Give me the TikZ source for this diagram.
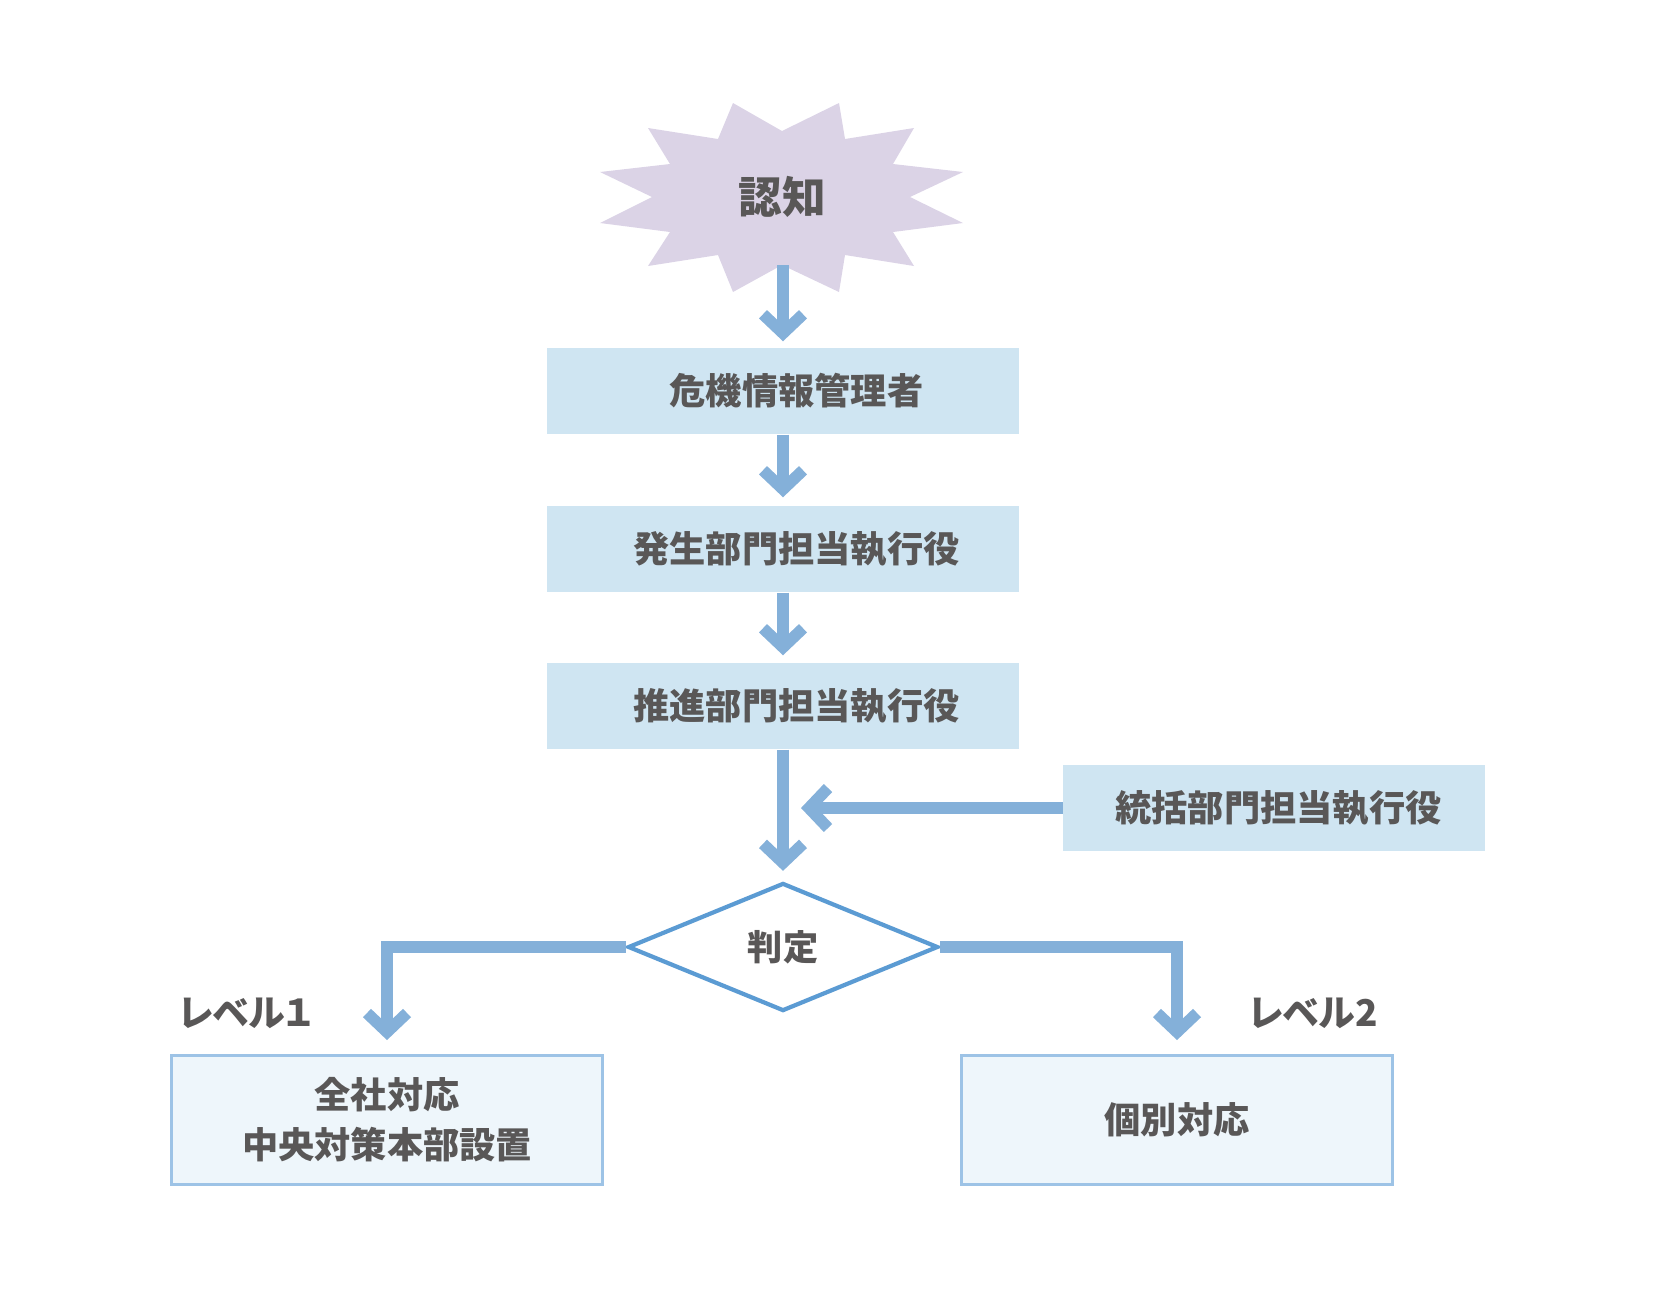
\documentclass[tikz,border=0pt]{standalone}
\usepackage{fontspec}
\setmainfont{Noto Sans CJK JP}
\newfontfamily\kanafont[RawFeature=+palt]{Noto Sans CJK JP}
\usepackage{xcolor}
\usepackage{tikz}
\usetikzlibrary{shapes.geometric, arrows.meta, positioning}

\definecolor{starlilac}{HTML}{DBD3E6}
\definecolor{boxblue}{HTML}{CFE5F2}
\definecolor{paleblue}{HTML}{EEF6FB}
\definecolor{edgeblue}{HTML}{9DC3E6}
\definecolor{flowblue}{HTML}{84B0D9}
\definecolor{diamblue}{HTML}{5B9BD3}
\definecolor{inkgray}{HTML}{595757}

\begin{document}
\begin{tikzpicture}[x=0.01cm,y=-0.01cm,
  every node/.style={text=inkgray, font=\bfseries\fontsize{10.3}{14.2}\selectfont},
  rolebox/.style={fill=boxblue, minimum width=4.71cm, minimum height=0.86cm, inner sep=0pt},
  outbox/.style={fill=paleblue, draw=edgeblue, line width=0.8pt, minimum width=4.30cm, minimum height=1.29cm, align=center, inner sep=0pt},
  levellabel/.style={font=\kanafont\bfseries\fontsize{10.5}{12}\selectfont},
  flowarrow/.style={draw=flowblue, line width=3.3pt, -{Straight Barb[length=0.19cm, width=0.40cm]}}]
  \useasboundingbox (0,0) rectangle (1654,1299);

  % --- TRIGGER: starburst ---
  \fill[starlilac] (782,131) -- (839,103) -- (845,139) -- (914,128) -- (893,164) -- (963,172)
    -- (910,197) -- (963,223) -- (893,232) -- (914,266) -- (845,255) -- (839,292)
    -- (782,265) -- (733,292) -- (718,255) -- (648,266) -- (670,232) -- (600,223)
    -- (652,197) -- (600,172) -- (670,164) -- (648,128) -- (718,139) -- (733,103) -- cycle;
  \node[font=\bfseries\fontsize{12.4}{14}\selectfont] (alert) at (782,197) {認知};
  \coordinate (alertfoot) at (783,265);

  % --- REPORTING CHAIN ---
  \node[rolebox] (mgr)   at (783,391) {\hspace*{0.27cm}危機情報管理者};
  \node[rolebox] (dept)  at (783,549) {\hspace*{0.27cm}発生部門担当執行役};
  \node[rolebox] (promo) at (783,706) {\hspace*{0.27cm}推進部門担当執行役};
  \node[rolebox, minimum width=4.21cm, minimum height=0.85cm] (ctrl) at (1274,808) {\hspace*{0.09cm}統括部門担当執行役};

  % --- DECISION ---
  \node[diamond, fill=white, draw=diamblue, line width=1.2pt, aspect=2.42,
        minimum width=3.1cm, minimum height=1.28cm, inner sep=0pt,
        font=\bfseries\fontsize{10}{12}\selectfont] (judge) at (783,947) {判定};

  % --- RESPONSES ---
  \node[outbox] (lvone) at (387,1120) {全社対応\\中央対策本部設置};
  \node[outbox] (lvtwo) at (1177,1120) {個別対応};
  \node[levellabel] (lvonelab) at (246,1013) {レベル１};
  \node[levellabel] (lvtwolab) at (1313,1013) {レベル2};

  % Arrows between stages
  \draw[flowarrow, shorten >=0.06cm] (alertfoot) -- (alertfoot |- mgr.north);
  \draw[flowarrow, shorten >=0.08cm] (mgr.south) -- (dept.north);
  \draw[flowarrow, shorten >=0.07cm] (dept.south) -- (promo.north);
  \draw[flowarrow, shorten >=0.10cm] (promo.south) -- (judge.north);
  \draw[flowarrow, shorten >=0.18cm] (ctrl.west) -- (ctrl.west -| judge.north);
  \draw[flowarrow, shorten >=0.14cm] (judge.west) -| (lvone.north);
  \draw[flowarrow, shorten >=0.14cm] (judge.east) -| (lvtwo.north);
\end{tikzpicture}
\end{document}
